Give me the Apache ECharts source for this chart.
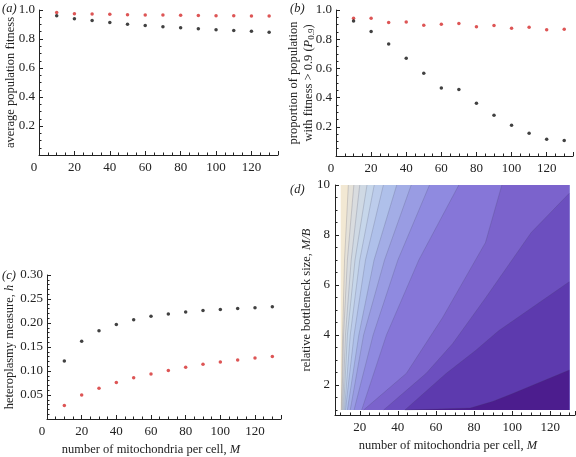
<!DOCTYPE html>
<html><head><meta charset="utf-8">
<script src="https://cdn.jsdelivr.net/npm/echarts@6/dist/echarts.min.js"></script>
<style>html,body{margin:0;padding:0;background:#fff}#c{width:576px;height:457px}</style>
</head><body><div id="c"></div>
<script>
const mValues = [10,20,30,40,50,60,70,80,90,100,110,120,130];
const fitnessBlack = [0.961,0.940,0.927,0.913,0.902,0.893,0.884,0.877,0.870,0.863,0.858,0.854,0.847];
const fitnessRed   = [0.982,0.975,0.973,0.970,0.968,0.966,0.965,0.963,0.962,0.961,0.960,0.959,0.958];
const p09Black = [0.925,0.852,0.767,0.669,0.567,0.465,0.456,0.361,0.279,0.211,0.156,0.114,0.107];
const p09Red   = [0.944,0.944,0.914,0.918,0.896,0.903,0.907,0.886,0.893,0.875,0.882,0.864,0.869];
const hetBlack = [0.121,0.162,0.184,0.197,0.207,0.214,0.219,0.223,0.226,0.228,0.230,0.232,0.234];
const hetRed   = [0.028,0.050,0.064,0.076,0.086,0.094,0.101,0.108,0.114,0.119,0.123,0.127,0.130];
// contour boundary lines of panel (d): [M, M/B] points, light -> dark
const contourLines = [
  [[10.3,1],[11,4],[12,7],[14,10]],
  [[10.6,1],[11.5,4],[13.5,7],[16.9,10]],
  [[11,1],[12.5,4],[15.5,7],[20,10]],
  [[11.5,1],[13.5,4],[17.5,7],[23.8,10]],
  [[12,1],[15,4],[20,7],[27.6,10]],
  [[12.5,1],[17,4],[23,7],[32.4,10]],
  [[13.5,1],[19.5,4],[27.5,7],[39.4,10]],
  [[15,1],[22,4],[33,7],[47,10]],
  [[17,1],[27,4],[40,7],[56.6,10]],
  [[21,1],[34,4],[51,7],[72,10]],
  [[22,1],[44.5,2.47],[63.5,4.7],[86,7.7],[94.6,10]],
  [[32.5,1],[54.9,2.47],[68.7,3.65],[86,5.48],[110,8.1],[130,9.67]],
  [[43.7,1],[65.3,2.46],[80.8,3.38],[92.9,4.17],[130,6.13]],
  [[43.7,1],[78,1.08],[90,1.35],[100,1.65],[130,2.6]]
];
const contourColors = ['#f2e8d3','#e4e1d9','#d9dcdf','#cfd9e4','#c6d6ea','#bccceb','#afc0ea','#a3ade6',
  '#999ce3','#8f8ae0','#8676d8','#7b63cc','#6c4fbf','#5d3aae','#4c1d8e'];

const FONT = 'Liberation Serif';
const chart = echarts.init(document.getElementById('c'), null, {renderer:'canvas'});
const axisLine = {lineStyle:{color:'#222', width:1}};
const tick = {inside:true, length:4, lineStyle:{color:'#222'}};
const minor = {show:true, length:2.5, lineStyle:{color:'#222'}};
const lbl = {fontFamily:FONT, fontSize:13, color:'#222'};
function xAxisStd(grid, extra) {
  return Object.assign({type:'value', gridIndex:grid, min:0, max:135, interval:20,
    axisLine:axisLine, axisTick:tick, minorTick:Object.assign({splitNumber:4}, minor),
    splitLine:{show:false}, minorSplitLine:{show:false},
    axisLabel:Object.assign({}, lbl, {showMaxLabel:false, margin:6,
      formatter:v=> v===0 ? '{z|0}' : String(v), rich:{z:{fontFamily:FONT,fontSize:13,color:'#222',padding:[0,10,0,0]}}})}, extra||{});
}
const nameStyle = {fontFamily:FONT, fontSize:12.5, color:'#222'};
const italicRich = {i:{fontFamily:FONT, fontSize:12.5, fontStyle:'italic', color:'#222'},
  s:{fontFamily:FONT, fontSize:9, color:'#222', verticalAlign:'bottom', padding:[6,0,0,0]}};

function sc(grid, ys, color) {
  return {type:'scatter', xAxisIndex:grid, yAxisIndex:grid, symbolSize:3.5,
    itemStyle:{color:color}, data:mValues.map((m,i)=>[m, ys[i]]), silent:true};
}

const option = {
  animation:false,
  grid:[
    {left:39, top:10, width:239, height:145},
    {left:336, top:10, width:237, height:146},
    {left:47, top:275, width:234, height:145},
    {left:335, top:185, width:240, height:234}
  ],
  xAxis:[
    xAxisStd(0),
    xAxisStd(1),
    xAxisStd(2, {name:'number of mitochondria per cell, {i|M}', nameLocation:'middle', nameGap:24,
      nameTextStyle:Object.assign({}, nameStyle, {rich:italicRich, padding:[0,26,0,0]})}),
    {type:'value', gridIndex:3, min:7, max:133, splitNumber:6,
      axisLine:axisLine, axisTick:tick, minorTick:Object.assign({splitNumber:4}, minor),
      splitLine:{show:false}, minorSplitLine:{show:false},
      axisLabel:Object.assign({}, lbl, {showMinLabel:false, showMaxLabel:false, margin:6,
        formatter:v=> (Math.abs(v/20-Math.round(v/20))<1e-6 ? String(Math.round(v)) : '')}),
      name:'number of mitochondria per cell, {i|M}', nameLocation:'middle', nameGap:24,
      nameTextStyle:Object.assign({}, nameStyle, {rich:italicRich, padding:[0,14,0,0]})}
  ],
  yAxis:[
    {type:'value', gridIndex:0, min:0, max:1, interval:0.2,
      axisLine:axisLine, axisTick:tick, minorTick:Object.assign({splitNumber:4}, minor),
      splitLine:{show:false}, minorSplitLine:{show:false},
      axisLabel:Object.assign({}, lbl, {showMinLabel:false, margin:4, formatter:v=>v.toFixed(1)}),
      name:'average population fitness', nameLocation:'middle', nameGap:22, nameMoveOverlap:false,
      nameTextStyle:nameStyle},
    {type:'value', gridIndex:1, min:0, max:1, interval:0.2,
      axisLine:axisLine, axisTick:tick, minorTick:Object.assign({splitNumber:4}, minor),
      splitLine:{show:false}, minorSplitLine:{show:false},
      axisLabel:Object.assign({}, lbl, {showMinLabel:false, margin:4, formatter:v=>v.toFixed(1)}),
      name:'proportion of population\nwith fitness > 0.9 ({i|P}{s|0.9})', nameLocation:'middle', nameGap:20,
      nameMoveOverlap:false,
      nameTextStyle:Object.assign({}, nameStyle, {rich:italicRich, lineHeight:15})},
    {type:'value', gridIndex:2, min:0, max:0.3, interval:0.05,
      axisLine:axisLine, axisTick:tick, minorTick:Object.assign({splitNumber:5}, minor),
      splitLine:{show:false}, minorSplitLine:{show:false},
      axisLabel:Object.assign({}, lbl, {showMinLabel:false, margin:4, formatter:v=>v.toFixed(2)}),
      name:'heteroplasmy measure, {i|h}', nameLocation:'middle', nameGap:26,
      nameTextStyle:Object.assign({}, nameStyle, {rich:italicRich})},
    {type:'value', gridIndex:3, min:0.8, max:10, splitNumber:5,
      axisLine:axisLine, axisTick:tick, minorTick:Object.assign({splitNumber:4}, minor),
      splitLine:{show:false}, minorSplitLine:{show:false},
      axisLabel:Object.assign({}, lbl, {showMinLabel:false, margin:5}),
      name:'relative bottleneck size, {i|M/B}', nameLocation:'middle', nameGap:16,
      nameTextStyle:Object.assign({}, nameStyle, {rich:italicRich})}
  ],
  graphic:[
    {type:'text', left:2, top:2, style:{text:'(a)', font:'italic 12.5px "Liberation Serif"', fill:'#222'}},
    {type:'text', left:290, top:2, style:{text:'(b)', font:'italic 12.5px "Liberation Serif"', fill:'#222'}},
    {type:'text', left:2, top:269, style:{text:'(c)', font:'italic 12.5px "Liberation Serif"', fill:'#222'}},
    {type:'text', left:290, top:183, style:{text:'(d)', font:'italic 12.5px "Liberation Serif"', fill:'#222'}}
  ],
  series:[
    {type:'custom', xAxisIndex:3, yAxisIndex:3, silent:true, clip:true,
      data:contourColors.map((c,i)=>[i]),
      renderItem:function(params, api){
        const k = params.dataIndex;
        let pts;
        let line = null;
        if (k === 0) {
          pts = [[10,1],[10,10],[130,10],[130,1]];
        } else {
          line = contourLines[k-1];
          pts = line.slice();
          const last = pts[pts.length-1];
          if (last[1] >= 10 && last[0] < 130) pts.push([130,10]);
          pts.push([130,1]);
        }
        const children = [{type:'polygon', shape:{points:pts.map(p=>api.coord(p))},
          style:{fill:contourColors[k], stroke:null}}];
        if (line) children.push({type:'polyline', shape:{points:line.map(p=>api.coord(p))},
          style:{fill:null, stroke:'rgba(60,60,90,0.28)', lineWidth:0.7}});
        return {type:'group', children:children};
      }},
    sc(0, fitnessRed, '#d42a2a'), sc(0, fitnessBlack, '#111'),
    sc(1, p09Red, '#d42a2a'), sc(1, p09Black, '#111'),
    sc(2, hetBlack, '#111'), sc(2, hetRed, '#d42a2a')
  ]
};
chart.setOption(option);
</script></body></html>
